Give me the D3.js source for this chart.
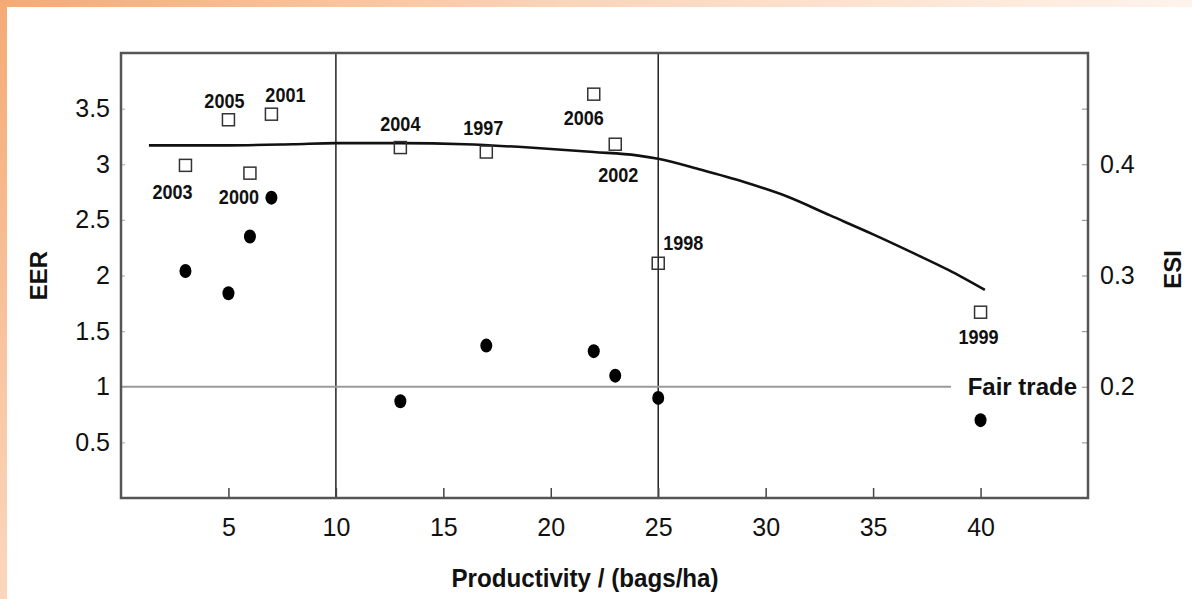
<!DOCTYPE html>
<html>
<head>
<meta charset="utf-8">
<script src="https://cdn.jsdelivr.net/npm/d3@7"></script>
<style>
  html, body { margin: 0; padding: 0; background: #fff; }
  svg { display: block; }
  text { font-family: "Liberation Sans", Arial, sans-serif; fill: #111; }
  .yr { font-weight: bold; font-size: 21px; }
</style>
</head>
<body>
<div id="chart"></div>
<script>
// productivity (bags/ha) of each harvest year
const years = ['1997', '1998', '1999', '2000', '2001', '2002', '2003', '2004', '2005', '2006'];
const productivity = [17, 25, 40, 6, 7, 23, 3, 13, 5, 22];
// EER (open squares, left axis)
const eerValues = [3.11, 2.11, 1.67, 2.92, 3.45, 3.18, 2.99, 3.15, 3.40, 3.63];
// ESI (filled dots, right axis)
const esiValues = [0.237, 0.190, 0.170, 0.335, 0.370, 0.210, 0.304, 0.187, 0.284, 0.232];
// fitted curve (EER vs productivity)
const curveX = [1.3, 5, 8, 10, 13, 16, 19, 22, 24, 25, 27, 29, 31, 33, 35, 37, 38.5, 40.2];
const curveY = [3.17, 3.17, 3.18, 3.19, 3.19, 3.18, 3.15, 3.11, 3.08, 3.05, 2.95, 2.84, 2.71, 2.54, 2.37, 2.19, 2.05, 1.87];
const xTicks = [5, 10, 15, 20, 25, 30, 35, 40];
const eerTicks = [0.5, 1, 1.5, 2, 2.5, 3, 3.5];
const esiTicks = [0.15, 0.2, 0.25, 0.3, 0.35, 0.4, 0.45];
const esiLabels = [0.2, 0.3, 0.4];
const refLinesX = [10, 25];
const fairTrade = 1;

// label offset from each square (layout only)
const labelOffset = {
  '2003': [-13, 27], '2005': [-4, -19], '2001': [14, -19], '2000': [-11, 24],
  '2004': [0, -24], '1997': [-3, -24], '2006': [-10, 24], '2002': [3, 31],
  '1998': [25, -20], '1999': [-2, 25]
};

const W = 1192, H = 599;
const pLeft = 121, pRight = 1088, pTop = 53, pBottom = 498;

const svg = d3.select('#chart').append('svg')
  .attr('width', W).attr('height', H);

// orange frame background
const defs = svg.append('defs');
const grad = defs.append('radialGradient')
  .attr('id', 'bg').attr('gradientUnits', 'userSpaceOnUse')
  .attr('cx', 0).attr('cy', 0).attr('r', 1250);
grad.append('stop').attr('offset', '0%').attr('stop-color', '#f5aa74');
grad.append('stop').attr('offset', '45%').attr('stop-color', '#fbd4b9');
grad.append('stop').attr('offset', '100%').attr('stop-color', '#fff6f0');
svg.append('rect').attr('width', W).attr('height', H).attr('fill', 'url(#bg)');
svg.append('rect').attr('x', 7).attr('y', 7).attr('width', W - 7).attr('height', H - 7).attr('fill', '#fff');

const x = d3.scaleLinear().domain([0, 45]).range([pLeft, pRight]);
const y = d3.scaleLinear().domain([0, 4]).range([pBottom, pTop]);
const y2 = d3.scaleLinear().domain([0.1, 0.5]).range([pBottom, pTop]);

// reference lines
svg.selectAll('.vline').data(refLinesX).join('line')
  .attr('x1', d => x(d)).attr('x2', d => x(d))
  .attr('y1', pTop).attr('y2', pBottom)
  .attr('stroke', '#222').attr('stroke-width', 1.5);

svg.append('line')
  .attr('x1', pLeft).attr('x2', 951)
  .attr('y1', y(fairTrade)).attr('y2', y(fairTrade))
  .attr('stroke', '#9a9a9a').attr('stroke-width', 2);

svg.append('text')
  .attr('x', 1077).attr('y', y(fairTrade) + 8)
  .attr('text-anchor', 'end')
  .style('font-weight', 'bold').style('font-size', '24px')
  .text('Fair trade');

// axes
svg.append('g')
  .attr('transform', `translate(0,${pBottom})`)
  .call(d3.axisBottom(x).tickValues(xTicks).tickSizeInner(-10).tickSizeOuter(0).tickPadding(20))
  .call(g => g.select('.domain').remove())
  .call(g => g.selectAll('line').attr('stroke', '#444').attr('stroke-width', 1.5))
  .call(g => g.selectAll('text').style('font-size', '25px').attr('fill', '#111'));

svg.append('g')
  .attr('transform', `translate(${pLeft},0)`)
  .call(d3.axisLeft(y).tickValues(eerTicks).tickFormat(d3.format('~g')).tickSizeInner(-4).tickSizeOuter(0).tickPadding(11))
  .call(g => g.select('.domain').remove())
  .call(g => g.selectAll('line').attr('stroke', '#aaa'))
  .call(g => g.selectAll('text').style('font-size', '25px').attr('fill', '#111'));

svg.append('g')
  .attr('transform', `translate(${pRight},0)`)
  .call(d3.axisRight(y2).tickValues(esiTicks).tickFormat(d => esiLabels.includes(d) ? d3.format('.1f')(d) : '')
    .tickSizeInner(-6).tickSizeOuter(0).tickPadding(12))
  .call(g => g.select('.domain').remove())
  .call(g => g.selectAll('line').attr('stroke', '#888'))
  .call(g => g.selectAll('text').style('font-size', '25px').attr('fill', '#111'));

// frame
svg.append('rect')
  .attr('x', pLeft).attr('y', pTop)
  .attr('width', pRight - pLeft).attr('height', pBottom - pTop)
  .attr('fill', 'none').attr('stroke', '#555').attr('stroke-width', 2.5);

// axis titles
svg.append('text')
  .attr('transform', `translate(47,${(pTop + pBottom) / 2}) rotate(-90)`)
  .attr('text-anchor', 'middle')
  .style('font-weight', 'bold').style('font-size', '24px')
  .text('EER');

svg.append('text')
  .attr('transform', `translate(1181,${(pTop + pBottom) / 2 - 6}) rotate(-90)`)
  .attr('text-anchor', 'middle')
  .style('font-weight', 'bold').style('font-size', '24px')
  .text('ESI');

svg.append('text')
  .attr('transform', 'translate(585,587) scale(0.93,1)')
  .attr('text-anchor', 'middle')
  .style('font-weight', 'bold').style('font-size', '26px')
  .text('Productivity / (bags/ha)');

// fitted curve
const curve = curveX.map((d, i) => [d, curveY[i]]);
svg.append('path')
  .datum(curve)
  .attr('fill', 'none').attr('stroke', '#111').attr('stroke-width', 2.6)
  .attr('d', d3.line().x(d => x(d[0])).y(d => y(d[1])).curve(d3.curveMonotoneX));

const pts = years.map((yr, i) => ({ yr, p: productivity[i], eer: eerValues[i], esi: esiValues[i] }));

// ESI dots
svg.selectAll('.dot').data(pts).join('ellipse')
  .attr('cx', d => x(d.p)).attr('cy', d => y2(d.esi))
  .attr('rx', 6).attr('ry', 7)
  .attr('fill', '#000');

// EER squares
svg.selectAll('.sq').data(pts).join('rect')
  .attr('x', d => x(d.p) - 6).attr('y', d => y(d.eer) - 6)
  .attr('width', 12).attr('height', 12)
  .attr('fill', 'none')
  .attr('stroke', '#333').attr('stroke-width', 1.5);

// year labels, condensed like the original
svg.selectAll('.yrlab').data(pts).join('text')
  .attr('class', 'yr')
  .attr('transform', d => `translate(${x(d.p) + labelOffset[d.yr][0]},${y(d.eer) + labelOffset[d.yr][1] + 7}) scale(0.86,1)`)
  .attr('text-anchor', 'middle')
  .text(d => d.yr);
</script>
</body>
</html>
